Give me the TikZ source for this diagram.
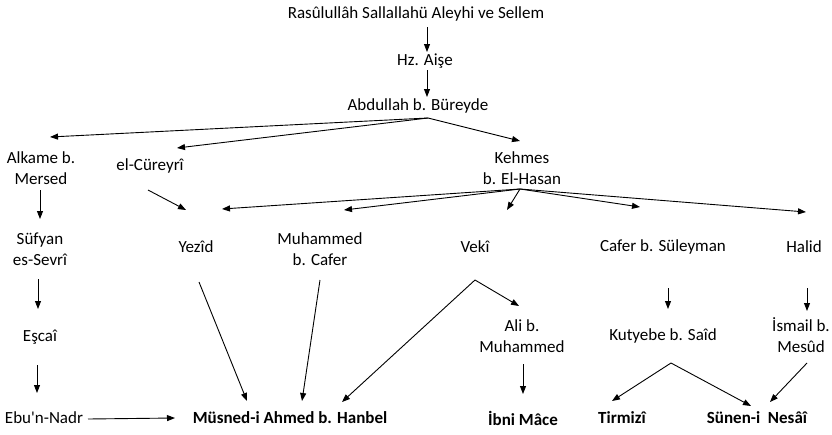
\documentclass[tikz,border=0pt]{standalone}
\usepackage{fontspec}
\setmainfont{Carlito}
\newfontfamily\aposfont{Carlito}[Ligatures=ResetAll]
\usetikzlibrary{arrows.meta}
\begin{document}
\begin{tikzpicture}[x=1pt,y=-1pt,
  lbl/.style={inner sep=0pt,font=\fontsize{17}{21.5}\selectfont,align=center},
  blbl/.style={lbl,font=\fontsize{17}{21.5}\selectfont\bfseries},
  arr/.style={draw=black,line width=0.9pt,-{Triangle[length=8pt,width=6pt]}}]
\useasboundingbox (0,0) rectangle (832,434);
% nodes
\node[lbl] (ras) at (416,14) {Rasûlullâh Sallallahü Aleyhi ve Sellem};
\node[lbl] (aise) at (425,61) {Hz. Aişe};
\node[lbl] (abd) at (418,106) {Abdullah b. Büreyde};
\node[lbl] (alk) at (41,168) {Alkame b.\\Mersed};
\node[lbl] (cur) at (150,166) {el-Cüreyrî};
\node[lbl] (keh) at (522,168) {Kehmes\\b. El-Hasan};
\node[lbl] (suf) at (40,249) {Süfyan\\es-Sevrî};
\node[lbl] (yez) at (196,247) {Yezîd};
\node[lbl] (muh) at (320,249) {Muhammed\\b. Cafer};
\node[lbl] (vek) at (475,247) {Vekî};
\node[lbl] (caf) at (663,247) {Cafer b. Süleyman};
\node[lbl] (hal) at (804,247) {Halid};
\node[lbl] (esc) at (40,337) {Eşcaî};
\node[lbl] (ali) at (522,336) {Ali b.\\Muhammed};
\node[lbl] (kut) at (663,336) {Kutyebe b. Saîd};
\node[lbl] (ism) at (801,335) {İsmail b.\\Mesûd};
\node[lbl] (ebu) at (44,418) {Ebu{\aposfont'}n-Nadr};
\node[blbl] (mus) at (290,418) {Müsned-i Ahmed b. Hanbel};
\node[blbl] (ibn) at (523,418) {İbni Mâce};
\node[blbl] (tir) at (622,418) {Tirmizî};
\node[blbl] (sun) at (757,418) {Sünen-i\ \ Nesâî};
% connector end points
\coordinate (rasS) at (427,27);  \coordinate (aiseN) at (427,52);
\coordinate (aiseS) at (427,70); \coordinate (abdN) at (427,97);
\coordinate (abdS) at (428,118);
\coordinate (alkN) at (50,137); \coordinate (curN) at (177,148); \coordinate (kehN) at (520,141);
\coordinate (alkS) at (40,190); \coordinate (sufN) at (40,219);
\coordinate (curS) at (148,190); \coordinate (yezN1) at (186,210);
\coordinate (kehS) at (520,189);
\coordinate (yezN2) at (222,209); \coordinate (muhN) at (344,210);
\coordinate (vekN) at (507,210); \coordinate (cafN) at (640,207); \coordinate (halN) at (806,212);
\coordinate (sufS) at (38,279); \coordinate (escN) at (38,309);
\coordinate (escS) at (37,365); \coordinate (ebuN) at (37,393);
\coordinate (ebuE) at (88,419); \coordinate (musW) at (175,418);
\coordinate (yezS) at (199,282); \coordinate (musN1) at (247,401);
\coordinate (muhS) at (320,280); \coordinate (musN2) at (302,401);
\coordinate (vekS) at (475,280); \coordinate (musN3) at (342,402);
\coordinate (aliN) at (519,306);
\coordinate (aliS) at (523,364); \coordinate (ibnN) at (523,394);
\coordinate (cafS) at (668,288); \coordinate (kutN) at (668,309);
\coordinate (halS) at (807,288); \coordinate (ismN) at (807,311);
\coordinate (kutS) at (671,363); \coordinate (tirN) at (612,401);
\coordinate (sunN1) at (751,406);
\coordinate (ismS) at (807,363); \coordinate (sunN2) at (770,402);
% connectors
\draw[arr] (rasS) -- (aiseN);
\draw[arr] (aiseS) -- (abdN);
\draw[arr] (abdS) -- (alkN);
\draw[arr] (abdS) -- (curN);
\draw[arr] (abdS) -- (kehN);
\draw[arr] (alkS) -- (sufN);
\draw[arr] (curS) -- (yezN1);
\draw[arr] (kehS) -- (yezN2);
\draw[arr] (kehS) -- (muhN);
\draw[arr] (kehS) -- (vekN);
\draw[arr] (kehS) -- (cafN);
\draw[arr] (kehS) -- (halN);
\draw[arr] (sufS) -- (escN);
\draw[arr] (escS) -- (ebuN);
\draw[arr] (ebuE) -- (musW);
\draw[arr] (yezS) -- (musN1);
\draw[arr] (muhS) -- (musN2);
\draw[arr] (vekS) -- (musN3);
\draw[arr] (vekS) -- (aliN);
\draw[arr] (aliS) -- (ibnN);
\draw[arr] (cafS) -- (kutN);
\draw[arr] (halS) -- (ismN);
\draw[arr] (kutS) -- (tirN);
\draw[arr] (kutS) -- (sunN1);
\draw[arr] (ismS) -- (sunN2);
\end{tikzpicture}
\end{document}
